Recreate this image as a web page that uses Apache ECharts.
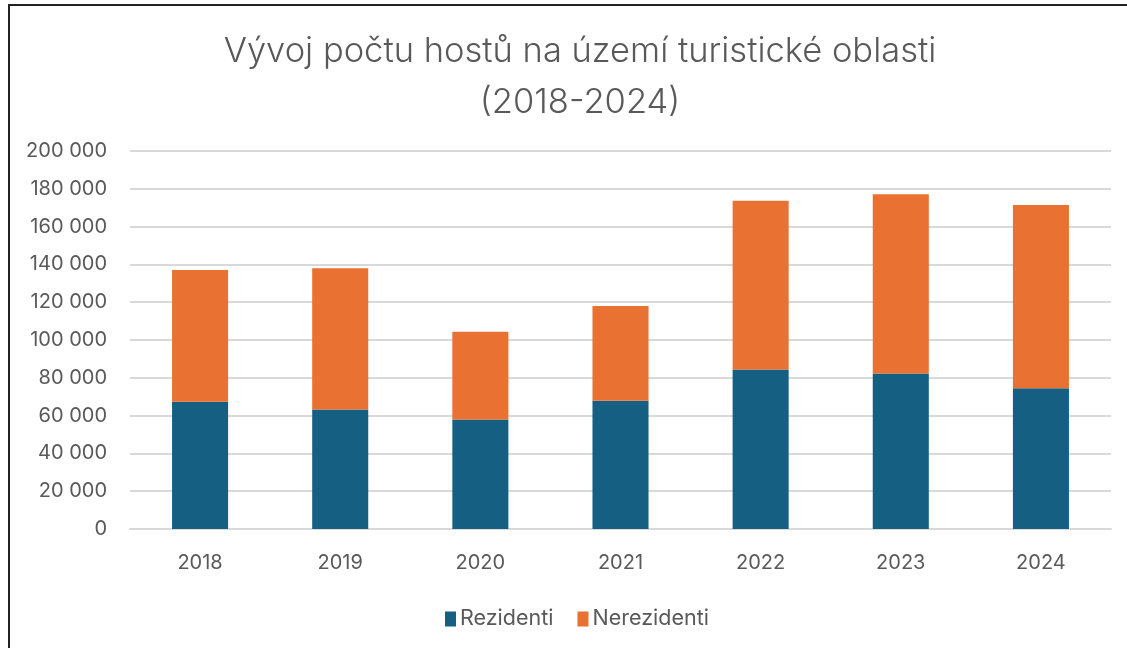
<!DOCTYPE html>
<html>
<head>
<meta charset="UTF-8">
<title>Vývoj počtu hostů</title>
<style>
  html, body { margin: 0; padding: 0; background: #fff; }
  #frame { position: absolute; left: 8px; top: 4px; width: 1140px; height: 660px; border: 2px solid #222; box-sizing: border-box; }
  #main { position: absolute; left: 0; top: 0; width: 1127px; height: 648px; }
</style>
</head>
<body>
<div id="frame"></div>
<div id="main"></div>
<script src="https://cdn.jsdelivr.net/npm/echarts@6/dist/echarts.min.js"></script>
<script>
var years = ['2018', '2019', '2020', '2021', '2022', '2023', '2024'];
var rezidenti = [67300, 63200, 57900, 67800, 84400, 82300, 74500];
var nerezidenti = [69800, 74800, 46400, 50200, 89300, 94800, 96900];

var font = 'Inter, "Open Sans", sans-serif';
var myChart = echarts.init(document.getElementById('main'));
var option = {
    animation: false,
    title: {
        text: 'Vývoj počtu hostů na území turistické oblasti\n(2018-2024)',
        left: 575,
        top: 21,
        textAlign: 'center',
        textStyle: {
            color: '#595959',
            fontFamily: font,
            fontWeight: 300,
            fontSize: 34.5,
            lineHeight: 51
        }
    },
    legend: {
        data: ['Rezidenti', 'Nerezidenti'],
        left: 440,
        top: 603,
        itemWidth: 11,
        itemHeight: 15,
        itemGap: 24,
        icon: 'rect',
        textStyle: { color: '#595959', fontSize: 21.5, fontFamily: font, padding: [0, 0, 0, -1] }
    },
    grid: {
        left: 130,
        right: 16,
        top: 151,
        bottom: 119,
        containLabel: false
    },
    xAxis: {
        type: 'category',
        data: years,
        axisLine: { show: true, lineStyle: { color: '#d9d9d9', width: 2 } },
        axisTick: { show: false },
        axisLabel: { color: '#595959', fontSize: 20, fontFamily: font, margin: 24 }
    },
    yAxis: {
        type: 'value',
        min: 0,
        max: 200000,
        interval: 20000,
        axisLine: { show: false },
        axisTick: { show: false },
        splitLine: { lineStyle: { color: '#d9d9d9', width: 2 } },
        axisLabel: {
            color: '#595959',
            fontSize: 20,
            fontFamily: font,
            margin: 23,
            formatter: function (v) {
                return String(v).replace(/\B(?=(\d{3})+(?!\d))/g, ' ');
            }
        }
    },
    series: [
        {
            name: 'Rezidenti',
            type: 'bar',
            stack: 'total',
            barWidth: '40%',
            itemStyle: { color: '#156082' },
            data: rezidenti
        },
        {
            name: 'Nerezidenti',
            type: 'bar',
            stack: 'total',
            barWidth: '40%',
            itemStyle: { color: '#E97132' },
            data: nerezidenti
        }
    ]
};
myChart.setOption(option);
</script>
</body>
</html>
